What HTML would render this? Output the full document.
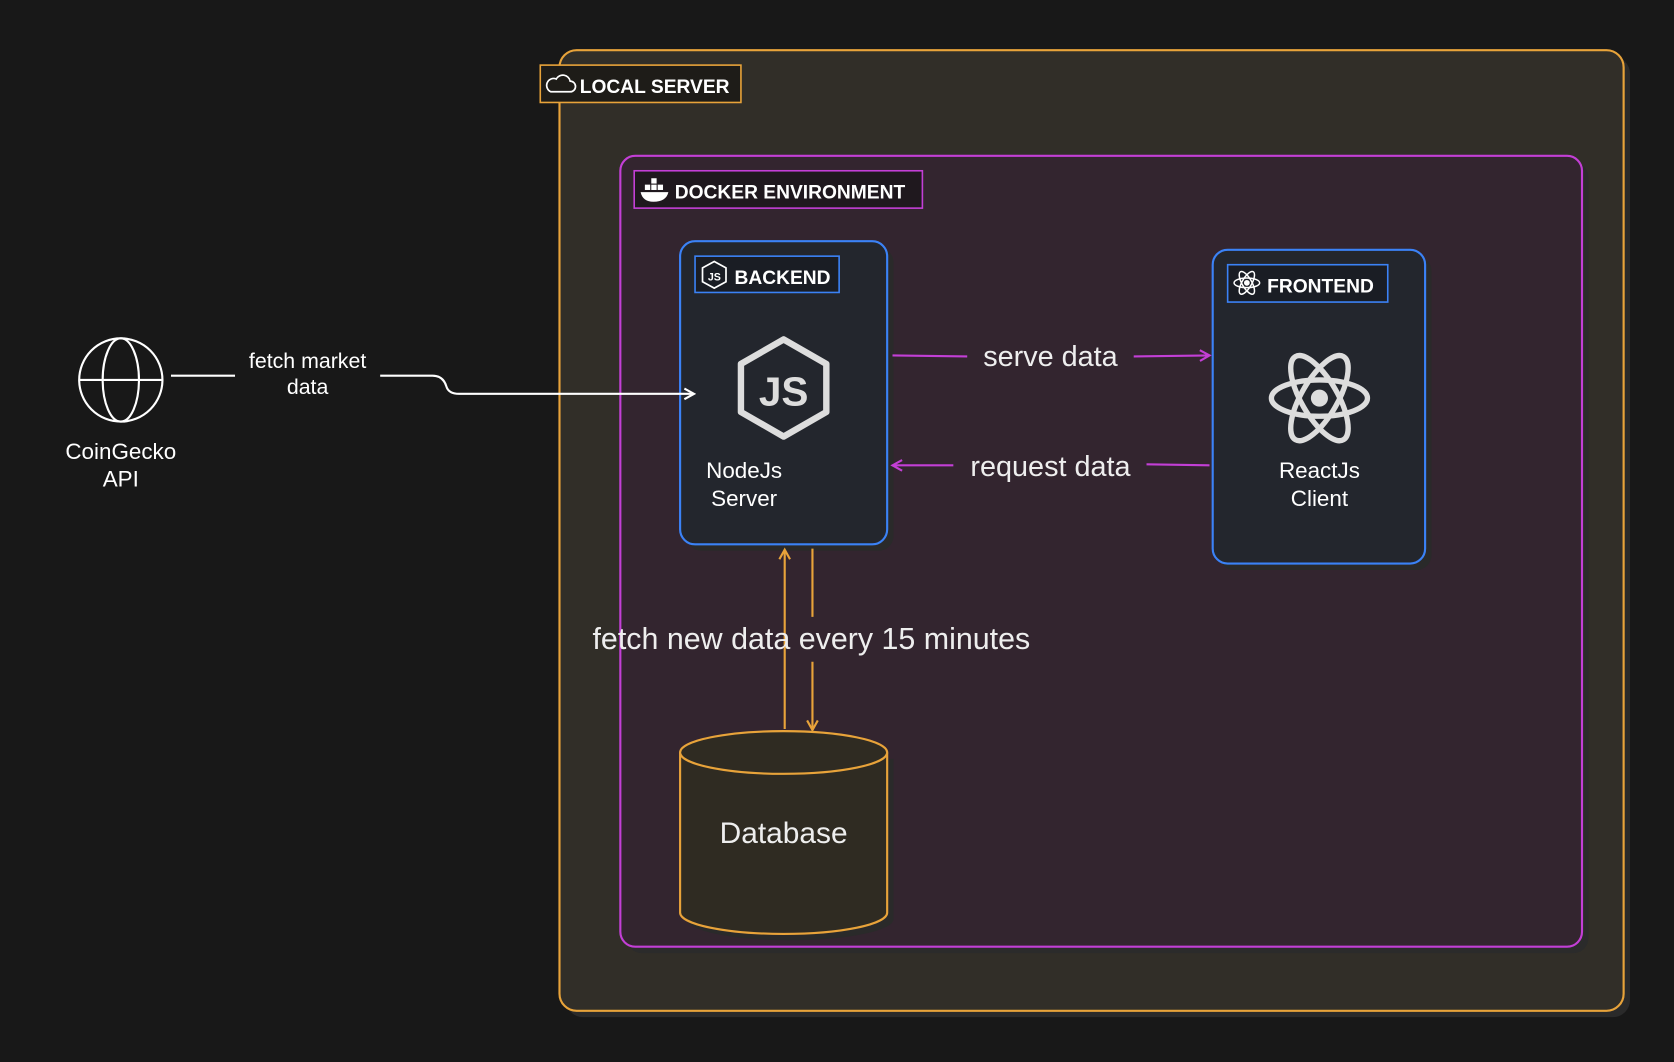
<!DOCTYPE html>
<html><head><meta charset="utf-8"><style>
html,body{margin:0;padding:0;background:#181818;width:1674px;height:1062px;overflow:hidden}
svg{display:block}
text{font-family:"Liberation Sans",sans-serif}
</style></head><body>
<svg width="1674" height="1062" viewBox="0 0 1568 995" xmlns="http://www.w3.org/2000/svg">
<defs>
<marker id="aw" markerWidth="12" markerHeight="12" refX="10" refY="6" orient="auto" markerUnits="userSpaceOnUse"><path d="M1,1 L10,6 L1,11" fill="none" stroke="#fff" stroke-width="2"/></marker>
<marker id="am" markerWidth="12" markerHeight="12" refX="10" refY="6" orient="auto" markerUnits="userSpaceOnUse"><path d="M1,1 L10,6 L1,11" fill="none" stroke="#c33fd6" stroke-width="2"/></marker>
<marker id="ao" markerWidth="12" markerHeight="12" refX="10" refY="6" orient="auto" markerUnits="userSpaceOnUse"><path d="M1,1 L10,6 L1,11" fill="none" stroke="#e8a33a" stroke-width="2"/></marker>
</defs>
<rect width="1568" height="995" fill="#181818"/>
<rect x="530" y="53" width="997" height="900" rx="16" fill="#2a2a2a"/>
<rect x="524" y="47" width="997" height="900" rx="16" fill="#312e28" stroke="#e8a33a" stroke-width="2"/>
<rect x="506" y="61" width="188" height="35" fill="#1e1c18" stroke="#e8a33a" stroke-width="1.5"/>
<path d="M516 86 h18 a5 5 0 0 0 0-10 a7 7 0 0 0-13-2 a5 5 0 0 0-5 12z" fill="none" stroke="#fff" stroke-width="1.6"/>
<text x="543" y="87" fill="#fff" font-size="18" font-weight="bold">LOCAL SERVER</text>
<rect x="587" y="152" width="901" height="741" rx="14" fill="#2b2b2b"/>
<rect x="581" y="146" width="901" height="741" rx="14" fill="#33252f" stroke="#c33fd6" stroke-width="2"/>
<rect x="594" y="160" width="270" height="35" fill="#1f181e" stroke="#c33fd6" stroke-width="1.5"/>
<path d="M600 180 h26 q-2 9-14 9 q-10 0-12-9z" fill="#fff"/><rect x="604" y="173" width="5" height="5" fill="#fff"/><rect x="610" y="173" width="5" height="5" fill="#fff"/><rect x="616" y="173" width="5" height="5" fill="#fff"/><rect x="610" y="167" width="5" height="5" fill="#fff"/>
<text x="632" y="186" fill="#fff" font-size="18" font-weight="bold">DOCKER ENVIRONMENT</text>
<rect x="643" y="232" width="194" height="284" rx="14" fill="#2a2a2a"/>
<rect x="637" y="226" width="194" height="284" rx="14" fill="#23262d" stroke="#3b82f6" stroke-width="2"/>
<rect x="651" y="240" width="135" height="34" fill="#1a1d24" stroke="#3b82f6" stroke-width="1.5"/>
<path d="M669 245 l11 6 v13 l-11 6 l-11-6 v-13z" fill="none" stroke="#fff" stroke-width="1.6"/>
<text x="663" y="263" fill="#fff" font-size="10" font-weight="bold">JS</text>
<text x="688" y="266" fill="#fff" font-size="18" font-weight="bold">BACKEND</text>
<path d="M734 318 l40 23 v45 l-40 23 l-40-23 v-45z" fill="none" stroke="#ddd" stroke-width="6" stroke-linejoin="round"/>
<text x="734" y="380" fill="#ddd" font-size="38" font-weight="bold" text-anchor="middle">JS</text>
<text x="697" y="448" fill="#fff" font-size="21" text-anchor="middle">NodeJs</text>
<text x="697" y="474" fill="#fff" font-size="21" text-anchor="middle">Server</text>
<rect x="1142" y="240" width="199" height="294" rx="14" fill="#2a2a2a"/>
<rect x="1136" y="234" width="199" height="294" rx="14" fill="#23262d" stroke="#3b82f6" stroke-width="2"/>
<rect x="1150" y="248" width="150" height="35" fill="#1a1d24" stroke="#3b82f6" stroke-width="1.5"/>
<g transform="translate(1168,265)" fill="none" stroke="#fff" stroke-width="1.4"><ellipse rx="12" ry="4.5"/><ellipse rx="12" ry="4.5" transform="rotate(60)"/><ellipse rx="12" ry="4.5" transform="rotate(-60)"/><circle r="2" fill="#fff"/></g>
<text x="1187" y="274" fill="#fff" font-size="18" font-weight="bold">FRONTEND</text>
<g transform="translate(1236,373)" fill="none" stroke="#ddd" stroke-width="5"><ellipse rx="45" ry="17"/><ellipse rx="45" ry="17" transform="rotate(60)"/><ellipse rx="45" ry="17" transform="rotate(-60)"/><circle r="8" fill="#ddd" stroke="none"/></g>
<text x="1236" y="448" fill="#fff" font-size="21" text-anchor="middle">ReactJs</text>
<text x="1236" y="474" fill="#fff" font-size="21" text-anchor="middle">Client</text>
<path d="M643 711 v150 a97 20 0 0 0 194 0 v-150" fill="#2a2a2a"/>
<path d="M637 705 v150 a97 20 0 0 0 194 0 v-150" fill="#2f2b22" stroke="#e8a33a" stroke-width="2"/>
<ellipse cx="734" cy="705" rx="97" ry="20" fill="#2f2b22" stroke="#e8a33a" stroke-width="2"/>
<text x="734" y="790" fill="#eee" font-size="28" text-anchor="middle">Database</text>
<g fill="none" stroke="#fff" stroke-width="2"><circle cx="113" cy="356" r="39"/><ellipse cx="113" cy="356" rx="17" ry="39"/><line x1="74" y1="356" x2="152" y2="356"/></g>
<text x="113" y="430" fill="#fff" font-size="21" text-anchor="middle">CoinGecko</text>
<text x="113" y="456" fill="#fff" font-size="21" text-anchor="middle">API</text>
<path d="M160 352 H220" stroke="#fff" stroke-width="2" fill="none"/>
<path d="M356 352 H405 Q415 352 418 362 Q420 369 430 369 H650" stroke="#fff" stroke-width="2" fill="none" marker-end="url(#aw)"/>
<text x="288" y="345" fill="#fff" font-size="20" text-anchor="middle">fetch market</text>
<text x="288" y="369" fill="#fff" font-size="20" text-anchor="middle">data</text>
<path d="M836 333 L906 334" stroke="#c33fd6" stroke-width="2"/>
<path d="M1062 334 L1133 333" stroke="#c33fd6" stroke-width="2" fill="none" marker-end="url(#am)"/>
<text x="984" y="343" fill="#eee" font-size="27" text-anchor="middle">serve data</text>
<path d="M1133 436 L1074 435" stroke="#c33fd6" stroke-width="2"/>
<path d="M893 436 L836 436" stroke="#c33fd6" stroke-width="2" fill="none" marker-end="url(#am)"/>
<text x="984" y="446" fill="#eee" font-size="27" text-anchor="middle">request data</text>
<path d="M735 683 V515" stroke="#e8a33a" stroke-width="2" fill="none" marker-end="url(#ao)"/>
<path d="M761 514 V578" stroke="#e8a33a" stroke-width="2"/>
<path d="M761 620 V684" stroke="#e8a33a" stroke-width="2" fill="none" marker-end="url(#ao)"/>
<text x="760" y="608" fill="#eee" font-size="28.5" text-anchor="middle">fetch new data every 15 minutes</text>
</svg>
</body></html>
